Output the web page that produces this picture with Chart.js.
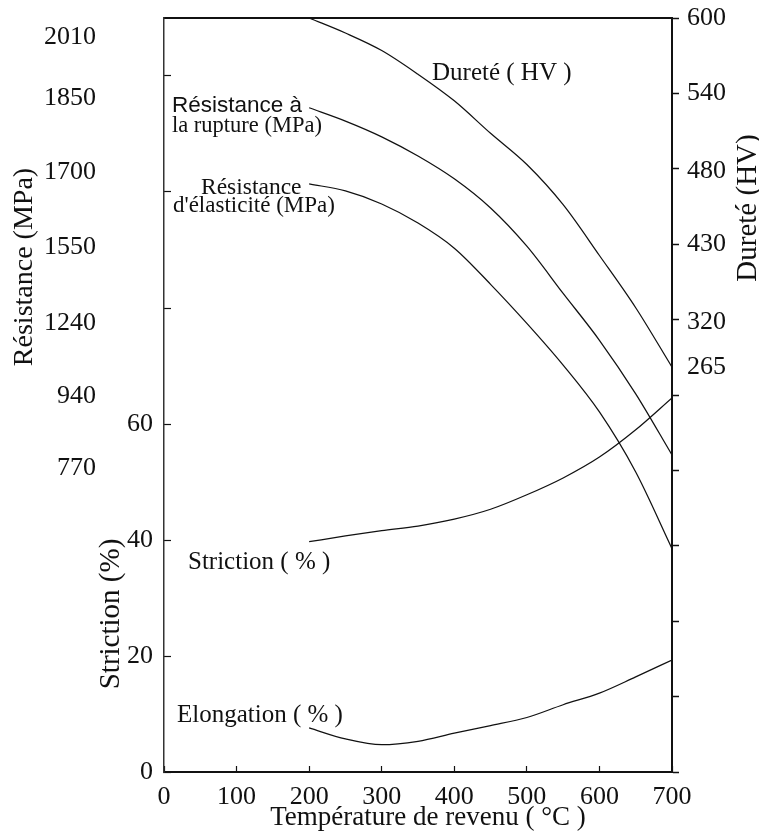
<!DOCTYPE html>
<html lang="fr">
<head>
<meta charset="utf-8">
<title>Propriétés mécaniques en fonction de la température de revenu</title>
<script src="https://cdn.jsdelivr.net/npm/chart.js@4.4.1/dist/chart.umd.min.js"></script>
<style>
  html, body { margin: 0; padding: 0; background: #fff; }
  #chart { display: block; }
</style>
</head>
<body>
<canvas id="chart" width="759" height="834"></canvas>
<script>
// ---- Données ----
// Températures de revenu (°C)
const temperatures = [200, 250, 300, 350, 400, 450, 500, 550, 600, 650, 700];
// Dureté (HV)
const hardness = [600, 588, 574, 555, 534, 509, 485, 457, 414, 340, 265];
// Résistance à la rupture (MPa)
const tensileStrength = [1830, 1803, 1771, 1732, 1686, 1628, 1552, 1362, 1170, 948, 801];
// Résistance d'élasticité (MPa)
const yieldStrength = [1676, 1662, 1636, 1598, 1546, 1399, 1240, 1067, 902, 761, 581];
// Striction (%)
const reductionOfArea = [39.7, 40.7, 41.6, 42.4, 43.6, 45.3, 47.8, 50.7, 54.3, 59.0, 64.5];
// Elongation (%)
const elongation = [7.6, 5.7, 4.7, 5.3, 6.7, 8.0, 9.4, 11.6, 13.6, 16.4, 19.3];

// Graduations
const temperatureTicks = [0, 100, 200, 300, 400, 500, 600, 700];
const percentMarks = [0, 20, 40, 60, 80, 100, 120];
const percentLabels = [0, 20, 40, 60];
const resistanceTicks = [2010, 1850, 1700, 1550, 1240, 940, 770];
const hardnessTicks = [600, 540, 480, 430, 320, 265];

// ---- Mise en page des échelles non linéaires ----
// Hauteur relative (0 = bas, 1 = haut) de chaque graduation sur l'axe.
const axisPlacement = {
  yR: { values: resistanceTicks, fractions: [0.975, 0.894, 0.796, 0.696, 0.595, 0.499, 0.403] },
  yH: { values: hardnessTicks, fractions: [1.0, 0.9005, 0.797, 0.700, 0.597, 0.537] }
};

// Échelle linéaire par morceaux entre les graduations imprimées.
class StretchedScale extends Chart.LinearScale {
  static id = 'stretched';
  getPixelForValue(value) {
    if (value === null || value === undefined || Number.isNaN(+value)) return NaN;
    const { values, fractions } = axisPlacement[this.id];
    const n = values.length;
    let i = 0;
    while (i < n - 2 && value < values[i + 1]) i++;
    const t = (value - values[i]) / (values[i + 1] - values[i]);
    return this.getPixelForDecimal(fractions[i] + t * (fractions[i + 1] - fractions[i]));
  }
  getValueForPixel(pixel) {
    const { values, fractions } = axisPlacement[this.id];
    const d = this.getDecimalForPixel(pixel);
    const n = values.length;
    let i = 0;
    while (i < n - 2 && d < fractions[i + 1]) i++;
    const t = (d - fractions[i]) / (fractions[i + 1] - fractions[i]);
    return values[i] + t * (values[i + 1] - values[i]);
  }
}
Chart.register(StretchedScale);

const SERIF = '"Liberation Serif", "Times New Roman", serif';
const SANS = '"Liberation Sans", Arial, sans-serif';
const INK = '#111';

// Textes : étiquettes des courbes et titres d'axes
const captions = [
  { text: 'Dureté ( HV )', font: '25px ' + SERIF, x: 432, y: 80 },
  { text: 'Résistance à', font: '22.5px ' + SANS, x: 172, y: 112 },
  { text: 'la rupture (MPa)', font: '22.5px ' + SERIF, x: 172, y: 132 },
  { text: 'Résistance', font: '23.5px ' + SERIF, x: 201, y: 194 },
  { text: "d'élasticité (MPa)", font: '23px ' + SERIF, x: 173, y: 212 },
  { text: 'Striction ( % )', font: '25px ' + SERIF, x: 188, y: 569 },
  { text: 'Elongation ( % )', font: '25px ' + SERIF, x: 177, y: 722 },
  { text: 'Résistance (MPa)', font: '28px ' + SERIF, x: 25, y: 267, rotate: true },
  { text: 'Striction (%)', font: '29px ' + SERIF, x: 111, y: 614, rotate: true },
  { text: 'Dureté (HV)', font: '29px ' + SERIF, x: 748, y: 208, rotate: true },
  { text: 'Température de revenu ( °C )', font: '27px ' + SERIF, x: 428, y: 818, center: true }
];

const captionPlugin = {
  id: 'captions',
  afterDraw(chart) {
    const ctx = chart.ctx;
    ctx.save();
    ctx.fillStyle = INK;
    for (const c of captions) {
      ctx.font = c.font;
      if (c.rotate) {
        ctx.save();
        ctx.translate(c.x, c.y);
        ctx.rotate(-Math.PI / 2);
        ctx.textAlign = 'center';
        ctx.textBaseline = 'middle';
        ctx.fillText(c.text, 0, 0);
        ctx.restore();
      } else if (c.center) {
        ctx.textAlign = 'center';
        ctx.textBaseline = 'middle';
        ctx.fillText(c.text, c.x, c.y);
      } else {
        ctx.textAlign = 'left';
        ctx.textBaseline = 'alphabetic';
        ctx.fillText(c.text, c.x, c.y);
      }
    }
    ctx.restore();
  }
};

const line = (data, axis) => ({
  data: temperatures.map((t, i) => ({ x: t, y: data[i] })),
  yAxisID: axis,
  borderColor: INK,
  borderWidth: 1.25,
  pointRadius: 0,
  fill: false,
  cubicInterpolationMode: 'monotone'
});

const tickFont = { family: SERIF, size: 26 };

// Largeur fixe des axes verticaux, sans marge supplémentaire en haut et en bas
const fixWidth = w => s => { s.width = w; s.paddingTop = 0; s.paddingBottom = 0; };

new Chart(document.getElementById('chart'), {
  type: 'line',
  data: {
    datasets: [
      Object.assign(line(hardness, 'yH'), { label: 'Dureté (HV)' }),
      Object.assign(line(tensileStrength, 'yR'), { label: 'Résistance à la rupture (MPa)' }),
      Object.assign(line(yieldStrength, 'yR'), { label: "Résistance d'élasticité (MPa)" }),
      Object.assign(line(reductionOfArea, 'yS'), { label: 'Striction (%)' }),
      Object.assign(line(elongation, 'yS'), { label: 'Elongation (%)' })
    ]
  },
  options: {
    responsive: false,
    animation: false,
    events: [],
    devicePixelRatio: 1,
    layout: { padding: { top: 18, left: 0, right: 0, bottom: 0 } },
    plugins: { legend: { display: false }, tooltip: { enabled: false } },
    scales: {
      x: {
        type: 'linear', position: 'bottom', min: 0, max: 700,
        afterBuildTicks: s => { s.ticks = temperatureTicks.map(v => ({ value: v })); },
        afterFit: s => { s.height = 62; s.paddingLeft = 0; s.paddingRight = 0; },
        ticks: { font: tickFont, color: INK, padding: 15.5, autoSkip: false, maxRotation: 0, callback: v => String(v) },
        grid: { display: true, drawOnChartArea: false, drawTicks: true, tickLength: -6, tickColor: INK, tickWidth: 1.2 },
        border: { display: true, color: INK, width: 2 }
      },
      xTop: {
        type: 'linear', position: 'top', min: 0, max: 700,
        afterFit: s => { s.height = 0; s.paddingLeft = 0; s.paddingRight = 0; },
        ticks: { display: false },
        grid: { display: false, drawTicks: false },
        border: { display: true, color: INK, width: 2 }
      },
      yS: {
        type: 'linear', position: 'left', min: 0, max: 130, weight: 0,
        afterBuildTicks: s => { s.ticks = percentMarks.map(v => ({ value: v })); },
        afterFit: fixWidth(60),
        ticks: {
          font: tickFont, color: INK, padding: 18, autoSkip: false,
          callback: v => percentLabels.includes(v) ? String(v) : ''
        },
        grid: { display: true, drawOnChartArea: false, drawTicks: true, tickLength: -7, tickColor: INK, tickWidth: 1.2 },
        border: { display: true, color: '#333', width: 1.5 }
      },
      yR: {
        type: 'stretched', position: 'left', min: 0, max: 2200, weight: 1,
        afterBuildTicks: s => { s.ticks = resistanceTicks.map(v => ({ value: v })); },
        afterFit: fixWidth(104),
        ticks: { font: tickFont, color: INK, padding: 8, autoSkip: false, callback: v => String(v) },
        grid: { display: false, drawTicks: false },
        border: { display: false }
      },
      yHGrid: {
        type: 'linear', position: 'right', min: 0, max: 10, weight: 0,
        afterBuildTicks: s => { s.ticks = Array.from({ length: 11 }, (_, i) => ({ value: i })); },
        afterFit: fixWidth(0),
        ticks: { display: false },
        grid: { display: true, drawOnChartArea: false, drawTicks: true, tickLength: 7, tickColor: INK, tickWidth: 1.5 },
        border: { display: true, color: INK, width: 2 }
      },
      yH: {
        type: 'stretched', position: 'right', min: 0, max: 700, weight: 1,
        afterBuildTicks: s => { s.ticks = hardnessTicks.map(v => ({ value: v })); },
        afterFit: fixWidth(87),
        ticks: { font: tickFont, color: INK, padding: 15, autoSkip: false, callback: v => String(v) },
        grid: { display: false, drawTicks: false },
        border: { display: false }
      }
    }
  },
  plugins: [captionPlugin]
});
</script>
</body>
</html>
